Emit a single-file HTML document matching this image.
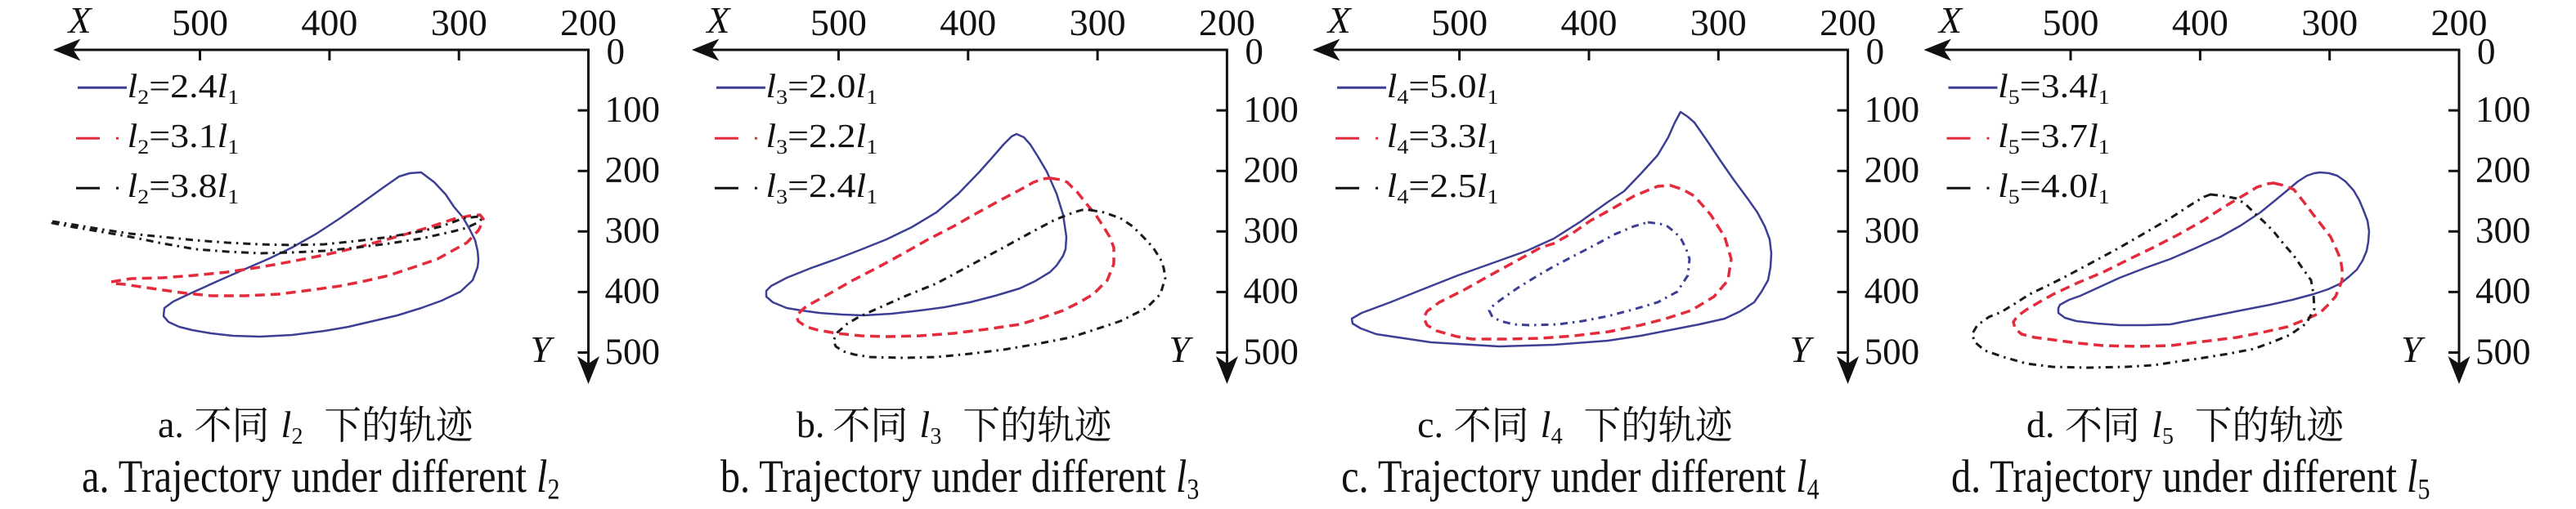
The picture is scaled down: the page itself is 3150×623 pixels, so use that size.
<!DOCTYPE html>
<html><head><meta charset="utf-8"><style>
html,body{margin:0;padding:0;background:#fff;}
svg{display:block;}
</style></head><body>
<svg width="3150" height="623" viewBox="0 0 3150 623" xmlns="http://www.w3.org/2000/svg">
<rect width="3150" height="623" fill="#fff"/>
<defs>
<g id="ax">
 <path d="M-646 61H0V446" fill="none" stroke="#111" stroke-width="3"/>
 <path d="M-654.5 61L-621 47.5L-630 61L-621 74.5Z" fill="#111"/>
 <path d="M0 470L-13.5 436L0 445L13.5 436Z" fill="#111"/>
 <path d="M-158.3 61V74M-316.6 61V74M-475 61V74M-13 135.1H0M-13 209.2H0M-13 283.3H0M-13 357.4H0M-13 431.5H0" stroke="#111" stroke-width="3"/>
 <line x1="-624.5" y1="107.3" x2="-564.5" y2="107.3" stroke="#3d3f94" stroke-width="3"/>
 <path d="M-626.5 169.3H-597.5M-577.5 169.3H-574.5" stroke="#e32b3c" stroke-width="3"/>
 <path d="M-626.5 230.3H-597.5M-577.5 230.3H-574.5" stroke="#111" stroke-width="3"/>
</g>
</defs>

<!-- ===== Panel A ===== -->
<use href="#ax" x="719.5" y="0"/>
<g transform="translate(719.5,0)" font-family="'Liberation Serif', serif" fill="#111">
 <g font-size="46">
  <text x="-475" y="43" text-anchor="middle">500</text>
  <text x="-316.6" y="43" text-anchor="middle">400</text>
  <text x="-158.3" y="43" text-anchor="middle">300</text>
  <text x="0" y="43" text-anchor="middle">200</text>
  <text x="-636" y="40" font-style="italic">X</text>
  <text x="-71" y="443" font-style="italic">Y</text>
 </g>
 <g font-size="45">
  <text x="22" y="78">0</text>
  <text x="20" y="149">100</text>
  <text x="20" y="223">200</text>
  <text x="20" y="297">300</text>
  <text x="20" y="371">400</text>
  <text x="20" y="445.5">500</text>
 </g>
 <text transform="translate(-564,119) scale(1.12,1)" font-size="41"><tspan font-style="italic">l</tspan><tspan font-size="25" dy="8">2</tspan><tspan dy="-8">=2.4</tspan><tspan font-style="italic">l</tspan><tspan font-size="25" dy="8">1</tspan></text>
 <text transform="translate(-564,180) scale(1.12,1)" font-size="41"><tspan font-style="italic">l</tspan><tspan font-size="25" dy="8">2</tspan><tspan dy="-8">=3.1</tspan><tspan font-style="italic">l</tspan><tspan font-size="25" dy="8">1</tspan></text>
 <text transform="translate(-564,241) scale(1.12,1)" font-size="41"><tspan font-style="italic">l</tspan><tspan font-size="25" dy="8">2</tspan><tspan dy="-8">=3.8</tspan><tspan font-style="italic">l</tspan><tspan font-size="25" dy="8">1</tspan></text>
 <text x="-526.5" y="535" font-size="46">a.</text>
 <text x="-482" y="537" font-size="48" font-family="'Liberation Serif','Noto Serif CJK SC',serif" textLength="92" lengthAdjust="spacingAndGlyphs">不同</text>
 <text x="-376" y="535" font-size="46" font-style="italic">l</text>
 <text x="-363" y="543" font-size="28">2</text>
 <text x="-323" y="537" font-size="48" font-family="'Liberation Serif','Noto Serif CJK SC',serif" textLength="182" lengthAdjust="spacingAndGlyphs">下的轨迹</text>
 <g transform="translate(-619.5,602) scale(1,1.2)">
  <text x="0" y="0" font-size="48" textLength="544" lengthAdjust="spacingAndGlyphs">a. Trajectory under different</text>
  <text x="556" y="0" font-size="48" font-style="italic">l</text>
  <text x="569.5" y="7" font-size="30">2</text>
 </g>
</g>
<g fill="none" stroke-linejoin="round">
 <polygon stroke="#3d3f94" stroke-width="2.5" points="501,212 515,211 531,223 545,238 555,253 566,266 574,280 581,294 584,307 585,318 584,327 578,343 563,357 540,368 515,377 486,386 456,393 426,400 397,405 357,410 318,412 285,411 258,408 235,404 219,400 206,394 200,387 201,377 212,369 231,360 264,345 298,330 328,317 357,303 387,286 416,267 443,248 468,230 488,216"/>
 <polygon stroke="#e32b3c" stroke-width="3.5" stroke-dasharray="12 7" points="136,345 160,341 199,340 238,337 278,333 318,327 357,320 397,312 436,303 466,295 495,287 525,278 555,268 575,264 587,263 591,268 588,276 585,282 571,297 553,307 535,317 506,327 476,337 446,344 416,350 380,355 341,360 300,362 258,362 228,359 199,355 172,351 152,348 140,347"/>
 <polygon stroke="#1a1a1a" stroke-width="3" stroke-dasharray="9 6 2.5 6" points="64,271 90,275 120,280 159,286 199,290 238,294 278,297 317,299 357,300 397,299 436,295 476,290 515,283 540,277 567,267 586,265 589,268 585,272 570,279 555,283 515,292 476,298 436,303 397,307 357,309 318,310 278,308 239,305 199,298 160,290 120,283 90,278 64,273"/>
</g>

<!-- ===== Panel B ===== -->
<use href="#ax" x="1500.4" y="0"/>
<g transform="translate(1500.4,0)" font-family="'Liberation Serif', serif" fill="#111">
 <g font-size="46">
  <text x="-475" y="43" text-anchor="middle">500</text>
  <text x="-316.6" y="43" text-anchor="middle">400</text>
  <text x="-158.3" y="43" text-anchor="middle">300</text>
  <text x="0" y="43" text-anchor="middle">200</text>
  <text x="-636" y="40" font-style="italic">X</text>
  <text x="-71" y="443" font-style="italic">Y</text>
 </g>
 <g font-size="45">
  <text x="22" y="78">0</text>
  <text x="20" y="149">100</text>
  <text x="20" y="223">200</text>
  <text x="20" y="297">300</text>
  <text x="20" y="371">400</text>
  <text x="20" y="445.5">500</text>
 </g>
 <text transform="translate(-564,119) scale(1.12,1)" font-size="41"><tspan font-style="italic">l</tspan><tspan font-size="25" dy="8">3</tspan><tspan dy="-8">=2.0</tspan><tspan font-style="italic">l</tspan><tspan font-size="25" dy="8">1</tspan></text>
 <text transform="translate(-564,180) scale(1.12,1)" font-size="41"><tspan font-style="italic">l</tspan><tspan font-size="25" dy="8">3</tspan><tspan dy="-8">=2.2</tspan><tspan font-style="italic">l</tspan><tspan font-size="25" dy="8">1</tspan></text>
 <text transform="translate(-564,241) scale(1.12,1)" font-size="41"><tspan font-style="italic">l</tspan><tspan font-size="25" dy="8">3</tspan><tspan dy="-8">=2.4</tspan><tspan font-style="italic">l</tspan><tspan font-size="25" dy="8">1</tspan></text>
 <text x="-526.5" y="535" font-size="46">b.</text>
 <text x="-482" y="537" font-size="48" font-family="'Liberation Serif','Noto Serif CJK SC',serif" textLength="92" lengthAdjust="spacingAndGlyphs">不同</text>
 <text x="-376" y="535" font-size="46" font-style="italic">l</text>
 <text x="-363" y="543" font-size="28">3</text>
 <text x="-323" y="537" font-size="48" font-family="'Liberation Serif','Noto Serif CJK SC',serif" textLength="182" lengthAdjust="spacingAndGlyphs">下的轨迹</text>
 <g transform="translate(-619.5,602) scale(1,1.2)">
  <text x="0" y="0" font-size="48" textLength="545" lengthAdjust="spacingAndGlyphs">b. Trajectory under different</text>
  <text x="557" y="0" font-size="48" font-style="italic">l</text>
  <text x="570.5" y="7" font-size="30">3</text>
 </g>
</g>
<g fill="none" stroke-linejoin="round">
 <polygon stroke="#3d3f94" stroke-width="2.5" points="1243,164 1252,168 1260,177 1270,193 1280,210 1292,237 1300,263 1304,290 1303,305 1300,313 1292,325 1284,333 1266,344 1247,353 1217,362 1186,370 1155,376 1125,380 1090,384 1056,386 1030,385 1002,383 980,380 962,377 945,370 937,363 937,356 943,350 962,340 992,328 1023,317 1054,305 1084,293 1115,278 1145,260 1172,237 1198,210 1214,192 1227,177 1237,167"/>
 <polygon stroke="#e32b3c" stroke-width="3.5" stroke-dasharray="12 7" points="1284,218 1297,220 1305,223 1318,236 1329,250 1340,263 1349,277 1357,290 1362,303 1362,323 1354,343 1337,360 1320,370 1300,380 1274,389 1247,397 1206,403 1166,408 1125,411 1084,412 1053,411 1023,408 1000,404 986,400 976,393 974,387 980,380 986,375 1015,359 1043,343 1074,327 1105,310 1135,293 1166,277 1196,260 1227,243 1246,233 1264,223 1275,219"/>
 <polygon stroke="#1a1a1a" stroke-width="3" stroke-dasharray="9 6 2.5 6" points="1333,257 1350,260 1370,267 1385,277 1398,290 1410,303 1419,317 1423,328 1425,340 1419,360 1402,377 1386,385 1370,393 1340,403 1309,413 1268,421 1227,428 1186,433 1145,437 1104,438 1064,437 1045,434 1031,430 1022,424 1019,417 1024,407 1035,397 1050,388 1072,378 1108,362 1145,347 1186,325 1227,303 1258,286 1288,270 1300,265 1313,260 1323,257"/>
</g>

<!-- ===== Panel C ===== -->
<use href="#ax" x="2259.6" y="0"/>
<g transform="translate(2259.6,0)" font-family="'Liberation Serif', serif" fill="#111">
 <g font-size="46">
  <text x="-475" y="43" text-anchor="middle">500</text>
  <text x="-316.6" y="43" text-anchor="middle">400</text>
  <text x="-158.3" y="43" text-anchor="middle">300</text>
  <text x="0" y="43" text-anchor="middle">200</text>
  <text x="-636" y="40" font-style="italic">X</text>
  <text x="-71" y="443" font-style="italic">Y</text>
 </g>
 <g font-size="45">
  <text x="22" y="78">0</text>
  <text x="20" y="149">100</text>
  <text x="20" y="223">200</text>
  <text x="20" y="297">300</text>
  <text x="20" y="371">400</text>
  <text x="20" y="445.5">500</text>
 </g>
 <text transform="translate(-564,119) scale(1.12,1)" font-size="41"><tspan font-style="italic">l</tspan><tspan font-size="25" dy="8">4</tspan><tspan dy="-8">=5.0</tspan><tspan font-style="italic">l</tspan><tspan font-size="25" dy="8">1</tspan></text>
 <text transform="translate(-564,180) scale(1.12,1)" font-size="41"><tspan font-style="italic">l</tspan><tspan font-size="25" dy="8">4</tspan><tspan dy="-8">=3.3</tspan><tspan font-style="italic">l</tspan><tspan font-size="25" dy="8">1</tspan></text>
 <text transform="translate(-564,241) scale(1.12,1)" font-size="41"><tspan font-style="italic">l</tspan><tspan font-size="25" dy="8">4</tspan><tspan dy="-8">=2.5</tspan><tspan font-style="italic">l</tspan><tspan font-size="25" dy="8">1</tspan></text>
 <text x="-526.5" y="535" font-size="46">c.</text>
 <text x="-482" y="537" font-size="48" font-family="'Liberation Serif','Noto Serif CJK SC',serif" textLength="92" lengthAdjust="spacingAndGlyphs">不同</text>
 <text x="-376" y="535" font-size="46" font-style="italic">l</text>
 <text x="-363" y="543" font-size="28">4</text>
 <text x="-323" y="537" font-size="48" font-family="'Liberation Serif','Noto Serif CJK SC',serif" textLength="182" lengthAdjust="spacingAndGlyphs">下的轨迹</text>
 <g transform="translate(-619.5,602) scale(1,1.2)">
  <text x="0" y="0" font-size="48" textLength="544" lengthAdjust="spacingAndGlyphs">c. Trajectory under different</text>
  <text x="556" y="0" font-size="48" font-style="italic">l</text>
  <text x="569.5" y="7" font-size="30">4</text>
 </g>
</g>
<g fill="none" stroke-linejoin="round">
 <polygon stroke="#3d3f94" stroke-width="2.5" points="2055,137 2064,143 2072,150 2088,173 2104,197 2120,220 2137,243 2149,260 2158,277 2164,293 2166,310 2165,327 2162,343 2154,357 2145,370 2128,381 2109,390 2078,397 2047,403 2006,411 1966,417 1900,422 1833,424 1750,419 1683,409 1664,402 1654,396 1653,390 1665,383 1700,370 1740,354 1783,337 1825,322 1867,307 1900,292 1933,271 1965,248 1986,234 2007,212 2027,190 2040,168 2048,150"/>
 <polygon stroke="#e32b3c" stroke-width="3.5" stroke-dasharray="12 7" points="2043,227 2058,232 2072,240 2092,263 2109,290 2117,317 2113,343 2096,363 2068,380 2037,390 2006,398 1967,406 1925,411 1884,414 1843,415 1800,415 1782,412 1757,405 1745,398 1741,389 1745,381 1760,370 1790,355 1822,337 1855,319 1884,303 1900,298 1925,284 1945,270 1967,258 1998,240 2027,228"/>
 <polygon stroke="#3d3f94" stroke-width="3" stroke-dasharray="9 6 2.5 6" points="2015,272 2030,274 2039,277 2049,285 2056,293 2062,305 2066,317 2064,337 2051,357 2027,370 2000,378 1966,387 1935,393 1905,397 1870,398 1851,397 1835,393 1825,388 1821,380 1826,374 1835,367 1855,353 1876,340 1900,326 1925,313 1950,300 1974,287 1998,277"/>
</g>

<!-- ===== Panel D ===== -->
<use href="#ax" x="3007" y="0"/>
<g transform="translate(3007,0)" font-family="'Liberation Serif', serif" fill="#111">
 <g font-size="46">
  <text x="-475" y="43" text-anchor="middle">500</text>
  <text x="-316.6" y="43" text-anchor="middle">400</text>
  <text x="-158.3" y="43" text-anchor="middle">300</text>
  <text x="0" y="43" text-anchor="middle">200</text>
  <text x="-636" y="40" font-style="italic">X</text>
  <text x="-71" y="443" font-style="italic">Y</text>
 </g>
 <g font-size="45">
  <text x="22" y="78">0</text>
  <text x="20" y="149">100</text>
  <text x="20" y="223">200</text>
  <text x="20" y="297">300</text>
  <text x="20" y="371">400</text>
  <text x="20" y="445.5">500</text>
 </g>
 <text transform="translate(-564,119) scale(1.12,1)" font-size="41"><tspan font-style="italic">l</tspan><tspan font-size="25" dy="8">5</tspan><tspan dy="-8">=3.4</tspan><tspan font-style="italic">l</tspan><tspan font-size="25" dy="8">1</tspan></text>
 <text transform="translate(-564,180) scale(1.12,1)" font-size="41"><tspan font-style="italic">l</tspan><tspan font-size="25" dy="8">5</tspan><tspan dy="-8">=3.7</tspan><tspan font-style="italic">l</tspan><tspan font-size="25" dy="8">1</tspan></text>
 <text transform="translate(-564,241) scale(1.12,1)" font-size="41"><tspan font-style="italic">l</tspan><tspan font-size="25" dy="8">5</tspan><tspan dy="-8">=4.0</tspan><tspan font-style="italic">l</tspan><tspan font-size="25" dy="8">1</tspan></text>
 <text x="-529" y="535" font-size="46">d.</text>
 <text x="-482" y="537" font-size="48" font-family="'Liberation Serif','Noto Serif CJK SC',serif" textLength="92" lengthAdjust="spacingAndGlyphs">不同</text>
 <text x="-376" y="535" font-size="46" font-style="italic">l</text>
 <text x="-363" y="543" font-size="28">5</text>
 <text x="-323" y="537" font-size="48" font-family="'Liberation Serif','Noto Serif CJK SC',serif" textLength="182" lengthAdjust="spacingAndGlyphs">下的轨迹</text>
 <g transform="translate(-621,602) scale(1,1.2)">
  <text x="0" y="0" font-size="48" textLength="545" lengthAdjust="spacingAndGlyphs">d. Trajectory under different</text>
  <text x="557" y="0" font-size="48" font-style="italic">l</text>
  <text x="570.5" y="7" font-size="30">5</text>
 </g>
</g>
<g fill="none" stroke-linejoin="round">
 <polygon stroke="#3d3f94" stroke-width="2.5" points="2837,211 2848,212 2858,215 2868,222 2878,233 2885,245 2890,257 2895,270 2897,283 2896,296 2894,307 2889,319 2882,330 2872,339 2862,347 2847,354 2829,360 2803,367 2776,373 2745,379 2715,385 2684,391 2654,397 2623,398 2592,398 2565,396 2539,393 2525,389 2517,383 2517,377 2519,373 2530,367 2544,362 2568,351 2592,340 2623,328 2654,317 2684,304 2715,290 2740,276 2764,260 2780,247 2797,233 2810,222 2821,215 2830,212"/>
 <polygon stroke="#e32b3c" stroke-width="3.5" stroke-dasharray="12 7" points="2780,224 2793,227 2805,232 2817,247 2829,263 2840,277 2850,290 2856,303 2862,317 2864,330 2864,343 2860,353 2856,363 2846,374 2837,383 2817,392 2797,400 2766,407 2735,413 2694,418 2654,423 2613,424 2572,423 2541,420 2511,416 2488,413 2472,409 2464,402 2462,394 2467,387 2478,379 2495,369 2511,360 2541,346 2572,333 2602,318 2633,303 2664,287 2694,270 2720,253 2747,237 2760,229 2773,225"/>
 <polygon stroke="#1a1a1a" stroke-width="3" stroke-dasharray="9 6 2.5 6" points="2703,238 2720,240 2735,243 2746,250 2756,260 2768,271 2780,283 2792,298 2805,313 2816,329 2826,343 2829,360 2830,378 2820,396 2800,410 2778,419 2756,427 2725,433 2694,438 2660,443 2633,447 2600,449 2552,450 2510,449 2478,445 2450,437 2427,429 2414,418 2412,408 2418,398 2432,388 2447,382 2465,371 2482,360 2503,350 2523,340 2555,323 2592,303 2623,285 2654,267 2680,250 2695,241"/>
</g>
</svg>
</body></html>
